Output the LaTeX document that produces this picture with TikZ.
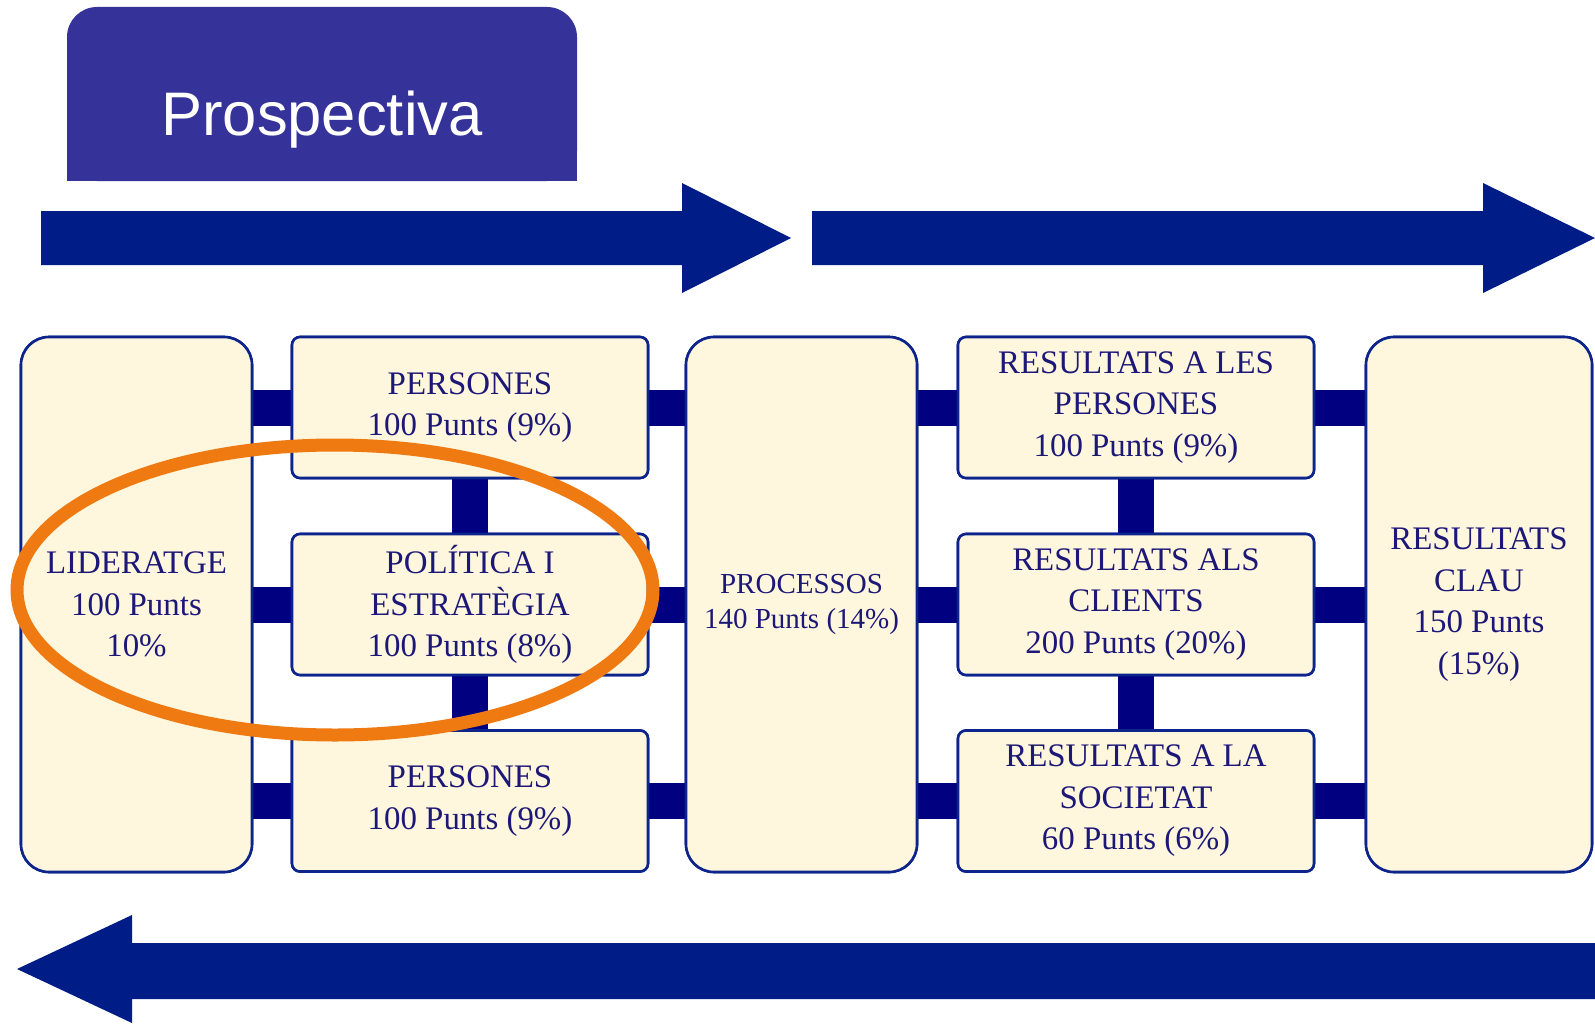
\documentclass[tikz,border=0pt]{standalone}
\usepackage{fontspec}
\setmainfont{Liberation Serif}
\newfontfamily\arialf{Liberation Sans}
\definecolor{arrowblue}{RGB}{0,28,134}
\definecolor{barblue}{RGB}{0,0,128}
\definecolor{boxline}{RGB}{12,36,140}
\definecolor{boxfill}{RGB}{255,246,222}
\definecolor{txtblue}{RGB}{28,24,120}
\definecolor{prospcol}{RGB}{53,51,153}
\definecolor{ringcol}{RGB}{240,122,18}
\begin{document}
\begin{tikzpicture}[x=1pt,y=-1pt,
  boxbase/.style={draw=boxline, fill=boxfill, line width=2.6pt, align=center,
    text=txtblue, inner sep=0pt, font=\fontsize{32.9}{41.5}\selectfont},
  tallbox/.style={boxbase, rounded corners=28pt, minimum width=231pt, minimum height=535pt},
  smallbox/.style={boxbase, rounded corners=8pt, minimum width=356pt, minimum height=141pt},
  bar/.style={draw=barblue, line width=36pt},
  bigarrow/.style={fill=arrowblue},
  ring/.style={draw=ringcol, line width=13pt}]
\useasboundingbox (0,0) rectangle (1595,1025);
\fill[white] (0,0) rectangle (1595,1025);

% Prospectiva tab
\fill[prospcol, rounded corners=30pt] (67,7) rectangle (577,181);
\fill[prospcol] (67,100) rectangle (577,181);
\node[anchor=base, text=white, font=\arialf\fontsize{61.5}{70}\selectfont, inner sep=0pt] (pros) at (322,135) {Prospectiva};

% big arrows
\fill[bigarrow] (41,211) -- (682,211) -- (682,183) -- (791,238) -- (682,293) -- (682,265) -- (41,265) -- cycle;
\fill[bigarrow] (812,211) -- (1483,211) -- (1483,183) -- (1595,238) -- (1483,293) -- (1483,265) -- (812,265) -- cycle;
\fill[bigarrow] (1595,943) -- (132,943) -- (132,915) -- (17,969) -- (132,1023) -- (132,999) -- (1595,999) -- cycle;

% box positions (nodes drawn after bars)
\path
  node[tallbox] (lid) at (136.5,604.5) {}
  node[smallbox] (p1) at (470,407.5) {}
  node[smallbox] (p2) at (470,604.5) {}
  node[smallbox] (p3) at (470,801) {}
  node[tallbox] (proc) at (801.5,604.5) {}
  node[smallbox] (r1) at (1136,407.5) {}
  node[smallbox] (r2) at (1136,604.5) {}
  node[smallbox] (r3) at (1136,801) {}
  node[tallbox, minimum width=226pt] (clau) at (1479,604.5) {};

% connector bars
\foreach \b in {p1,p2,p3}{
  \draw[bar] (\b.west) -- (\b.west -| lid.east);
  \draw[bar] (\b.east) -- (\b.east -| proc.west);
}
\foreach \b in {r1,r2,r3}{
  \draw[bar] (\b.west) -- (\b.west -| proc.east);
  \draw[bar] (\b.east) -- (\b.east -| clau.west);
}
\draw[bar] (p1.south) -- (p2.north);
\draw[bar] (p2.south) -- (p3.north);
\draw[bar] (r1.south) -- (r2.north);
\draw[bar] (r2.south) -- (r3.north);

% boxes with text
\node[tallbox] (lidT) at (lid) {LIDERATGE\\100 Punts\\10\%};
\node[smallbox] (p1T) at (p1) {PERSONES\\100 Punts (9\%)};
\node[smallbox] (p2T) at (p2) {POLÍTICA I\\ESTRATÈGIA\\100 Punts (8\%)};
\node[smallbox] (p3T) at (p3) {PERSONES\\100 Punts (9\%)};
\node[tallbox, font=\fontsize{29}{35.5}\selectfont] (procT) at (proc) {PROCESSOS\\140 Punts (14\%)};
\node[smallbox] (r1T) at (r1) {RESULTATS A LES\\PERSONES\\100 Punts (9\%)};
\node[smallbox] (r2T) at (r2) {RESULTATS ALS\\CLIENTS\\200 Punts (20\%)};
\node[smallbox] (r3T) at (r3) {RESULTATS A LA\\SOCIETAT\\60 Punts (6\%)};
\node[tallbox, minimum width=226pt] (clauT) at (clau) {RESULTATS\\CLAU\\150 Punts\\(15\%)};

% highlight ring
\draw[ring] (335,590) ellipse [x radius=318pt, y radius=145pt];
\end{tikzpicture}
\end{document}
